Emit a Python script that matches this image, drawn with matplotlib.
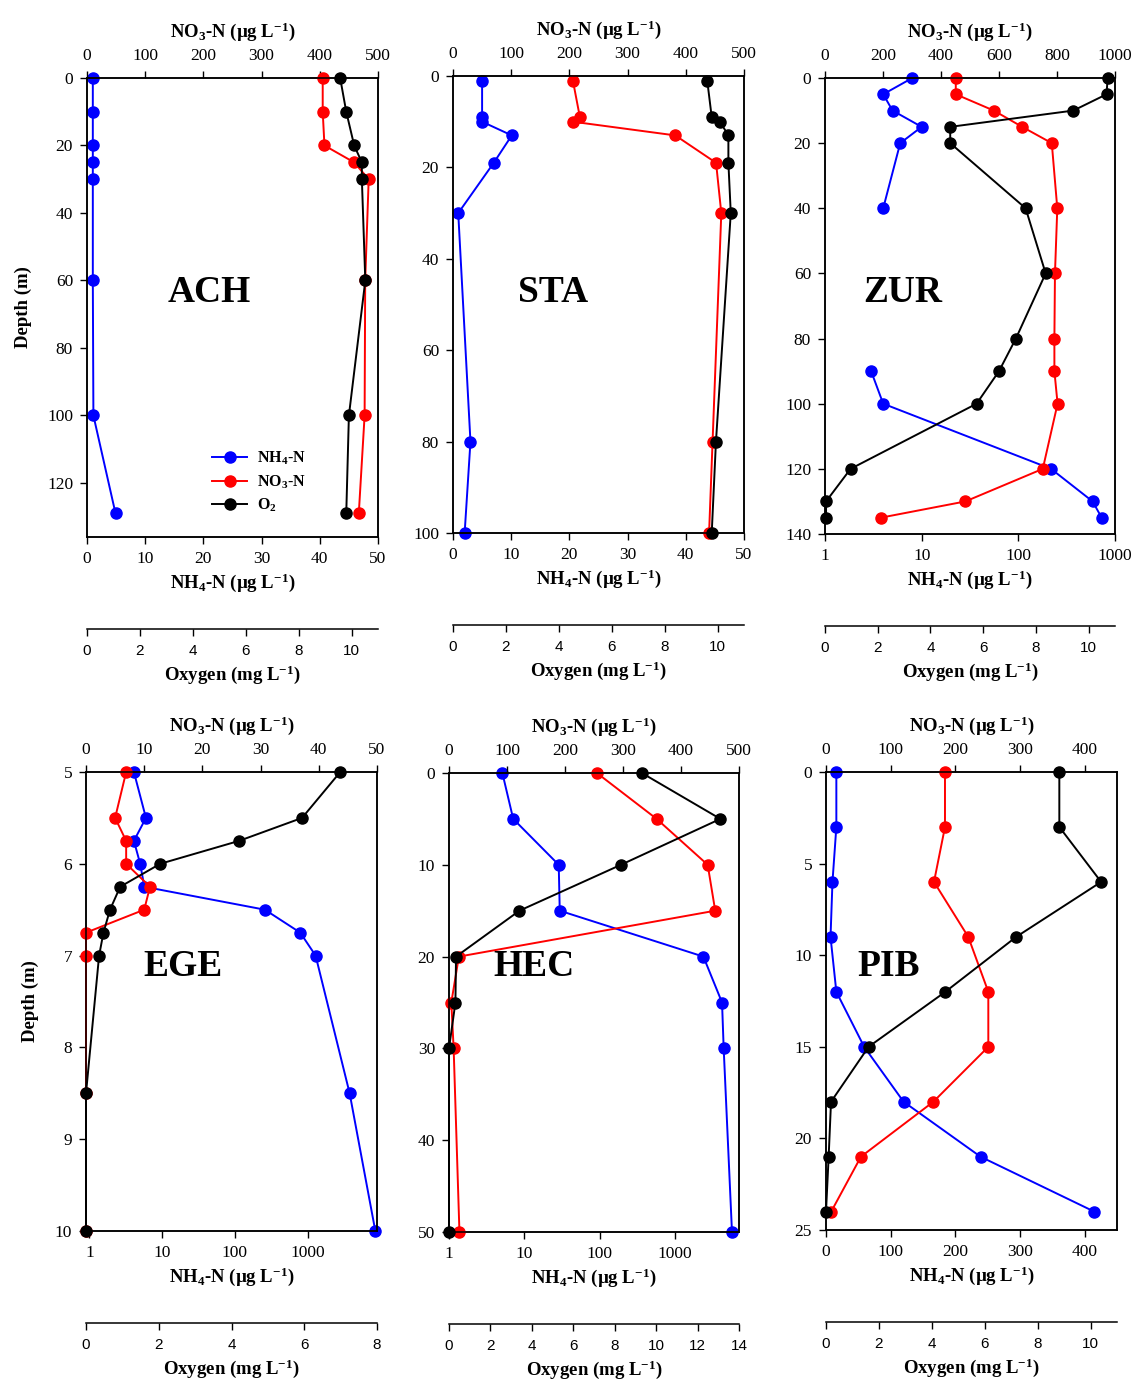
import matplotlib
matplotlib.use('Agg')
import matplotlib.pyplot as plt
import numpy as np
from matplotlib.ticker import NullLocator

plt.rcParams['font.family'] = ['Liberation Serif', 'DejaVu Serif']
plt.rcParams['mathtext.fontset'] = 'custom'
plt.rcParams['mathtext.rm'] = 'Liberation Serif:bold'
plt.rcParams['mathtext.it'] = 'Liberation Serif:bold'
plt.rcParams['mathtext.bf'] = 'Liberation Serif:bold'
plt.rcParams['mathtext.default'] = 'rm'

# ---- data (depth in m, NH4/NO3 in ug/L, O2 in mg/L) ----
ach_depth = [0, 10, 20, 25, 30, 60, 100, 129]
ach_nh4 = [1.0, 1.0, 1.0, 1.0, 1.0, 1.0, 1.1, 4.9]
ach_no3 = [405, 405, 408, 459, 484, 478, 477, 467]
ach_o2 = [9.57, 9.80, 10.10, 10.39, 10.39, 10.52, 9.90, 9.80]

sta_depth = [1, 9, 10, 13, 19, 30, 80, 100]
sta_nh4 = [5.0, 5.0, 5.0, 10.1, 7.0, 0.9, 3.0, 2.0]
sta_no3 = [206, 218, 206, 382, 452, 461, 446, 440]
sta_o2 = [9.61, 9.78, 10.09, 10.41, 10.41, 10.50, 9.94, 9.78]

zur_depth = [0, 5, 10, 15, 20, 40, 60, 80, 90, 100, 120, 130, 135]
zur_nh4 = [8.0, 4.0, 5.0, 10.0, 6.0, 4.0, np.nan, np.nan, 3.0, 4.0, 218, 587, 728]
zur_no3 = [451, 451, 582, 680, 782, 801, 793, 791, 791, 802, 751, 484, 192]
zur_o2 = [10.72, 10.68, 9.42, 4.75, 4.75, 7.61, 8.37, 7.24, 6.60, 5.75, 0.97, 0.04, 0.04]

ege_depth = [5, 5.5, 5.75, 6, 6.25, 6.5, 6.75, 7, 8.5, 10]
ege_nh4 = [4.1, 6.0, 4.1, 5.0, 5.7, 259, 793, 1289, 3786, 8536]
ege_no3 = [6.9, 5.0, 6.9, 6.9, 11.0, 10.0, 0, 0, 0, 0]
ege_o2 = [6.99, 5.94, 4.21, 2.04, 0.94, 0.66, 0.48, 0.36, 0, 0]

hec_depth = [0, 5, 10, 15, 20, 25, 30, 50]
hec_nh4 = [5.1, 7.1, 28.5, 29.4, 2360, 4170, 4385, 5650]
hec_no3 = [255, 358, 446, 459, 17, 4, 8, 18]
hec_o2 = [9.31, 13.10, 8.30, 3.40, 0.34, 0.31, 0, 0]

pib_depth = [0, 3, 6, 9, 12, 15, 18, 21, 24]
pib_nh4 = [16, 16, 10, 7, 16, 59, 120, 239, 415]
pib_no3 = [184, 184, 167, 220, 251, 251, 166, 54, 8]
pib_o2 = [8.82, 8.82, 10.40, 7.19, 4.51, 1.61, 0.19, 0.10, 0]

# ---- layout helpers ----
W, H = 1140, 1385
fig = plt.figure(figsize=(W / 100, H / 100), dpi=100)

def rect(l, r, t, b):
    return [l / W, 1 - b / H, (r - l) / W, (b - t) / H]

NH4_LAB = 'NH$_4$-N (µg L$^{-1}$)'
NO3_LAB = 'NO$_3$-N (µg L$^{-1}$)'
O2_LAB = 'Oxygen (mg L$^{-1}$)'
TICK = 12.5
LAB = 13.5

def draw_panel(box, name, name_xy, depth, nh4, no3, o2, nh4_log, nh4_lim, nh4_ticks,
               no3_lim, no3_ticks, o2_lim, o2_ticks, d_lim, d_ticks, ylab=False):
    ax = fig.add_axes(rect(*box))
    ax2 = ax.twiny()
    ax3 = ax.twiny()
    kw = dict(marker='o', markersize=8, lw=1.4, clip_on=False)
    l1, = ax.plot(nh4, depth, color='#0000ff', **kw)
    l2, = ax2.plot(no3, depth, color='#ff0000', **kw)
    l3, = ax3.plot(o2, depth, color='black', **kw)

    if nh4_log:
        ax.set_xscale('log')
        ax.xaxis.set_minor_locator(NullLocator())
    ax.set_xlim(nh4_lim)
    ax.set_xticks(nh4_ticks)
    ax.set_xticklabels([str(t) for t in nh4_ticks])
    ax.set_ylim(d_lim[1], d_lim[0])
    ax.set_yticks(d_ticks)
    ax.tick_params(axis='both', direction='out', length=5, width=1, labelsize=TICK, pad=5)
    ax.set_xlabel(NH4_LAB, fontsize=LAB, fontweight='bold', labelpad=3)
    if ylab:
        ax.set_ylabel('Depth (m)', fontsize=LAB, fontweight='bold', labelpad=11)

    ax2.set_xlim(no3_lim)
    ax2.set_xticks(no3_ticks)
    ax2.tick_params(axis='x', direction='out', length=5, width=1, labelsize=TICK, pad=5)
    ax2.set_xlabel(NO3_LAB, fontsize=LAB, fontweight='bold', labelpad=8)

    ax3.set_xlim(o2_lim)
    ax3.set_xticks(o2_ticks)
    ax3.xaxis.set_ticks_position('bottom')
    ax3.xaxis.set_label_position('bottom')
    for s in ['top', 'left', 'right']:
        ax3.spines[s].set_visible(False)
    ax3.spines['bottom'].set_position(('outward', 66))
    ax3.tick_params(axis='x', direction='out', length=5, width=1, labelsize=11, pad=6,
                    labelfontfamily='Liberation Sans')
    ax3.set_xlabel(O2_LAB, fontsize=LAB, fontweight='bold', labelpad=4)

    for a in (ax, ax2, ax3):
        for s in a.spines.values():
            s.set_linewidth(1.1)

    fig.text(name_xy[0] / W, 1 - name_xy[1] / H, name, fontsize=27, fontweight='bold',
             ha='center', va='center')
    return ax, (l1, l2, l3)

ax_ach, lines = draw_panel((87, 378, 78, 537), 'ACH', (209, 293), ach_depth, ach_nh4, ach_no3, ach_o2,
                           False, (0, 50), [0, 10, 20, 30, 40, 50], (0, 500), [0, 100, 200, 300, 400, 500],
                           (0, 11), [0, 2, 4, 6, 8, 10], (0, 136), [0, 20, 40, 60, 80, 100, 120], ylab=True)
draw_panel((453, 744, 76, 533), 'STA', (553, 293), sta_depth, sta_nh4, sta_no3, sta_o2,
           False, (0, 50), [0, 10, 20, 30, 40, 50], (0, 500), [0, 100, 200, 300, 400, 500],
           (0, 11), [0, 2, 4, 6, 8, 10], (0, 100), [0, 20, 40, 60, 80, 100])
draw_panel((825, 1115, 78, 534), 'ZUR', (903, 293), zur_depth, zur_nh4, zur_no3, zur_o2,
           True, (1, 1000), [1, 10, 100, 1000], (0, 1000), [0, 200, 400, 600, 800, 1000],
           (0, 11), [0, 2, 4, 6, 8, 10], (0, 140), [0, 20, 40, 60, 80, 100, 120, 140])
draw_panel((86, 377, 772, 1231), 'EGE', (183, 967), ege_depth, ege_nh4, ege_no3, ege_o2,
           True, (0.9, 9000), [1, 10, 100, 1000], (0, 50), [0, 10, 20, 30, 40, 50],
           (0, 8), [0, 2, 4, 6, 8], (5, 10), [5, 6, 7, 8, 9, 10], ylab=True)
draw_panel((449, 739, 773, 1232), 'HEC', (534, 967), hec_depth, hec_nh4, hec_no3, hec_o2,
           True, (1, 7000), [1, 10, 100, 1000], (0, 500), [0, 100, 200, 300, 400, 500],
           (0, 14), [0, 2, 4, 6, 8, 10, 12, 14], (0, 50), [0, 10, 20, 30, 40, 50])
draw_panel((826, 1117, 772, 1230), 'PIB', (889, 967), pib_depth, pib_nh4, pib_no3, pib_o2,
           False, (0, 450), [0, 100, 200, 300, 400], (0, 450), [0, 100, 200, 300, 400],
           (0, 11), [0, 2, 4, 6, 8, 10], (0, 25), [0, 5, 10, 15, 20, 25])

ax_ach.legend(lines, ['NH$_4$-N', 'NO$_3$-N', 'O$_2$'], loc='center left',
              bbox_to_anchor=(0.38, 0.12), frameon=False,
              prop={'size': 11.5, 'weight': 'bold'},
              handlelength=2.2, labelspacing=0.4, handletextpad=0.6)

fig.savefig('out.png', dpi=100)
